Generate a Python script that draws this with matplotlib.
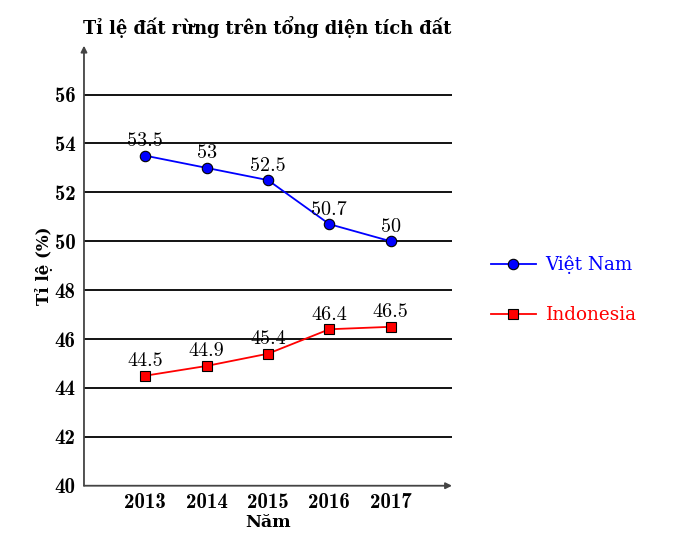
import matplotlib.pyplot as plt

years = [2013, 2014, 2015, 2016, 2017]
viet_nam = [53.5, 53.0, 52.5, 50.7, 50.0]
indonesia = [44.5, 44.9, 45.4, 46.4, 46.5]
viet_labels = ["53.5", "53", "52.5", "50.7", "50"]
indo_labels = ["44.5", "44.9", "45.4", "46.4", "46.5"]
y_ticks = [40, 42, 44, 46, 48, 50, 52, 54, 56]

TXT = "DejaVu Serif"
NUM = "cmb10"
NUM_REG = "cmr10"

fig = plt.figure(figsize=(6.8, 5.36), dpi=100)
ax = fig.add_axes([0.1235, 0.0938, 0.5412, 0.821])
ax.set_xlim(2012, 2018)
ax.set_ylim(40, 58)

for y in y_ticks[1:]:
    ax.axhline(y, color="black", lw=1.3, zorder=1)

ax.plot(years, viet_nam, color="blue", lw=1.3, marker="o", ms=7.5,
        mfc="blue", mec="black", mew=0.8, label="Việt Nam", zorder=3)
ax.plot(years, indonesia, color="red", lw=1.3, marker="s", ms=6.5,
        mfc="red", mec="black", mew=0.8, label="Indonesia", zorder=3)

for x, y, t in zip(years, viet_nam, viet_labels):
    ax.annotate(t, (x, y), xytext=(0, 4), textcoords="offset points",
                ha="center", va="bottom", fontsize=14.5, family=NUM_REG, zorder=4)
for x, y, t in zip(years, indonesia, indo_labels):
    ax.annotate(t, (x, y), xytext=(0, 4), textcoords="offset points",
                ha="center", va="bottom", fontsize=14.5, family=NUM_REG, zorder=4)

for s in ["top", "right", "left", "bottom"]:
    ax.spines[s].set_visible(False)
ax.annotate("", xy=(1.0, 0), xytext=(0, 0), xycoords="axes fraction",
            arrowprops=dict(arrowstyle="-|>", color="#444444", lw=1.3,
                            mutation_scale=9, shrinkA=0, shrinkB=0))
ax.annotate("", xy=(0, 1.0), xytext=(0, 0), xycoords="axes fraction",
            arrowprops=dict(arrowstyle="-|>", color="#444444", lw=1.3,
                            mutation_scale=9, shrinkA=0, shrinkB=0))

ax.set_xticks(years)
ax.set_xticklabels([str(y) for y in years], family=NUM, fontsize=15)
ax.set_yticks(y_ticks)
ax.set_yticklabels([str(y) for y in y_ticks], family=NUM, fontsize=15)
ax.tick_params(axis="y", length=0, pad=6)
ax.tick_params(axis="x", length=0, pad=5)

ax.set_xlabel("Năm", family=TXT, fontweight="bold", fontsize=12.5, labelpad=2)
ax.set_ylabel("Tỉ lệ (%)", family=TXT, fontweight="bold", fontsize=12, labelpad=1.5)
fig.text(0.393, 0.95, "Tỉ lệ đất rừng trên tổng diện tích đất", family=TXT,
         fontweight="bold", fontsize=12.8, ha="center", va="center")

leg = ax.legend(loc="center left", bbox_to_anchor=(1.06, 0.445), frameon=False,
                labelcolor="linecolor", prop={"family": TXT, "size": 13.2},
                handlelength=2.5, labelspacing=1.75, handletextpad=0.5)

fig.savefig("out.png", dpi=100)
